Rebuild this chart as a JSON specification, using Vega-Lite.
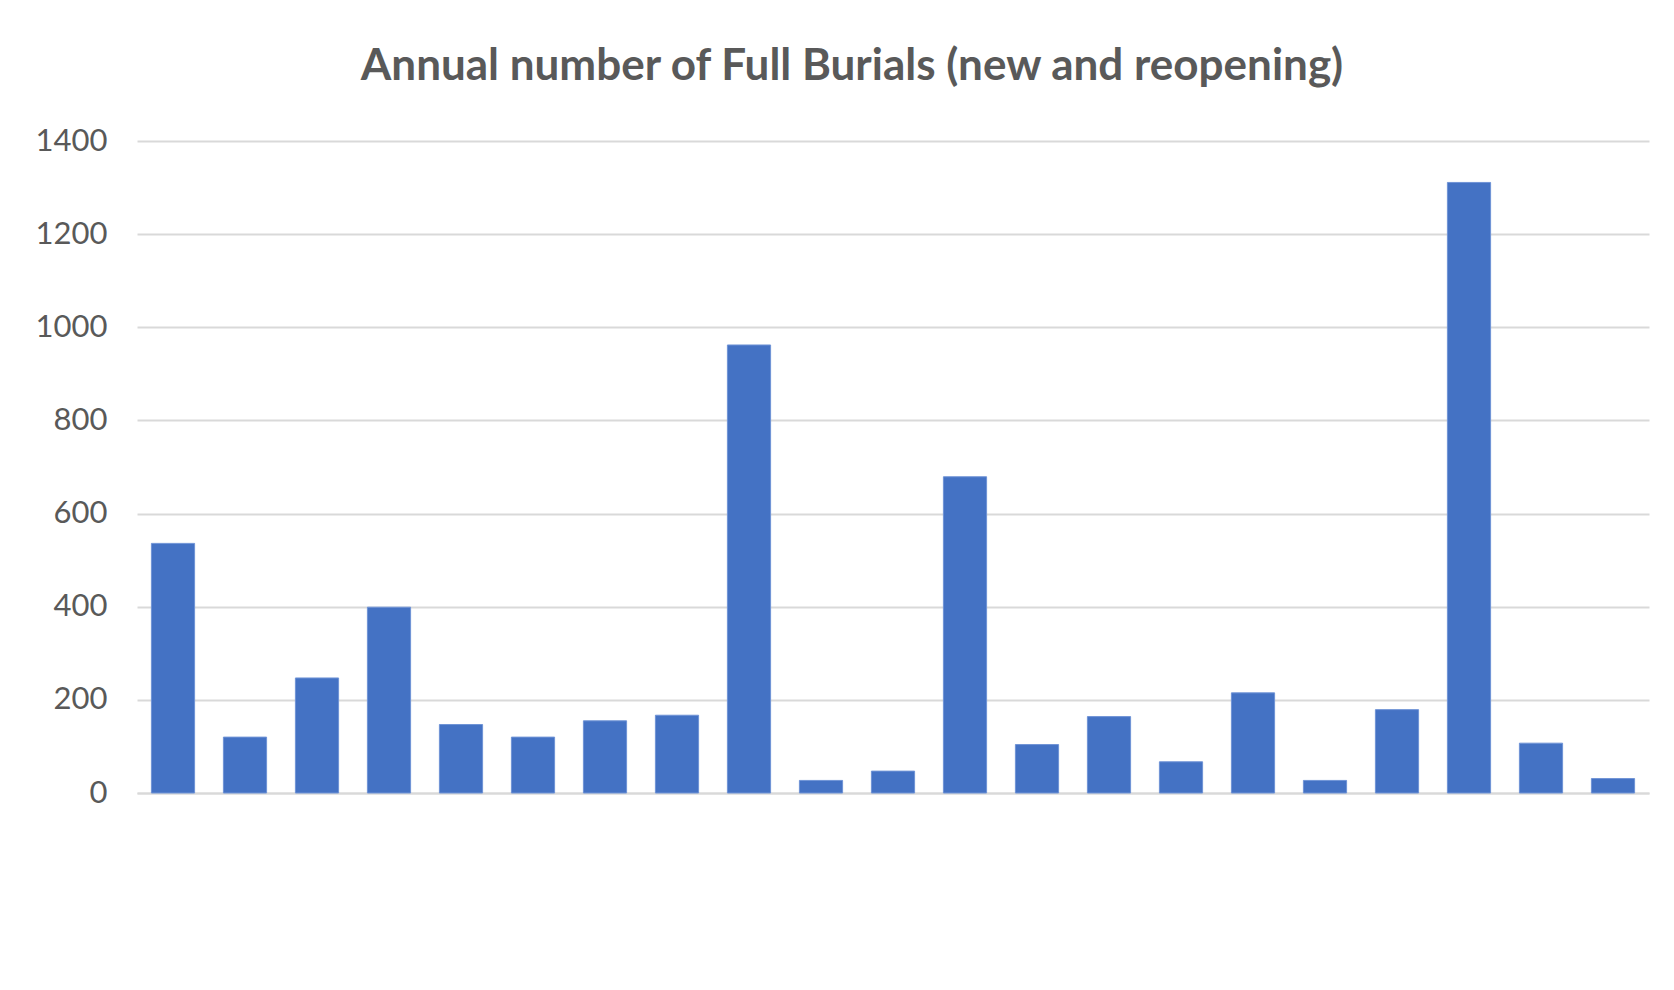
{
  "$schema": "https://vega.github.io/schema/vega-lite/v6.json",
  "autosize": {"type": "none"},
  "padding": {"left": 137, "top": 141, "right": 25, "bottom": 197},
  "width": 1512,
  "height": 652,
  "background": "white",
  "title": {
    "text": "Annual number of Full Burials (new and reopening)",
    "font": "Lato",
    "fontSize": 44,
    "fontWeight": "bold",
    "color": "#595959",
    "anchor": "middle",
    "dx": -41,
    "offset": 36
  },
  "data": {
    "values": [
      {"period": 1, "burials": 536},
      {"period": 2, "burials": 120},
      {"period": 3, "burials": 247},
      {"period": 4, "burials": 399},
      {"period": 5, "burials": 147},
      {"period": 6, "burials": 120},
      {"period": 7, "burials": 155},
      {"period": 8, "burials": 167},
      {"period": 9, "burials": 962},
      {"period": 10, "burials": 27},
      {"period": 11, "burials": 47},
      {"period": 12, "burials": 679},
      {"period": 13, "burials": 104},
      {"period": 14, "burials": 164},
      {"period": 15, "burials": 67},
      {"period": 16, "burials": 215},
      {"period": 17, "burials": 27},
      {"period": 18, "burials": 179},
      {"period": 19, "burials": 1311},
      {"period": 20, "burials": 107},
      {"period": 21, "burials": 31}
    ]
  },
  "mark": {"type": "bar", "color": "#4472C4", "stroke": "#6f93d6", "strokeWidth": 1},
  "encoding": {
    "x": {
      "field": "period",
      "type": "ordinal",
      "scale": {"paddingInner": 0.4, "paddingOuter": 0.2},
      "axis": {
        "title": null,
        "labels": false,
        "ticks": false,
        "grid": false,
        "domain": true,
        "domainColor": "#d9d9d9",
        "domainWidth": 2
      }
    },
    "y": {
      "field": "burials",
      "type": "quantitative",
      "scale": {"domain": [0, 1400], "nice": false},
      "axis": {
        "title": null,
        "values": [0, 200, 400, 600, 800, 1000, 1200, 1400],
        "format": "d",
        "domain": false,
        "ticks": false,
        "grid": true,
        "gridColor": "#d9d9d9",
        "gridWidth": 2,
        "labelFont": "Lato",
        "labelFontSize": 31,
        "labelColor": "#595959",
        "labelPadding": 30
      }
    }
  },
  "config": {
    "view": {"stroke": null}
  }
}
